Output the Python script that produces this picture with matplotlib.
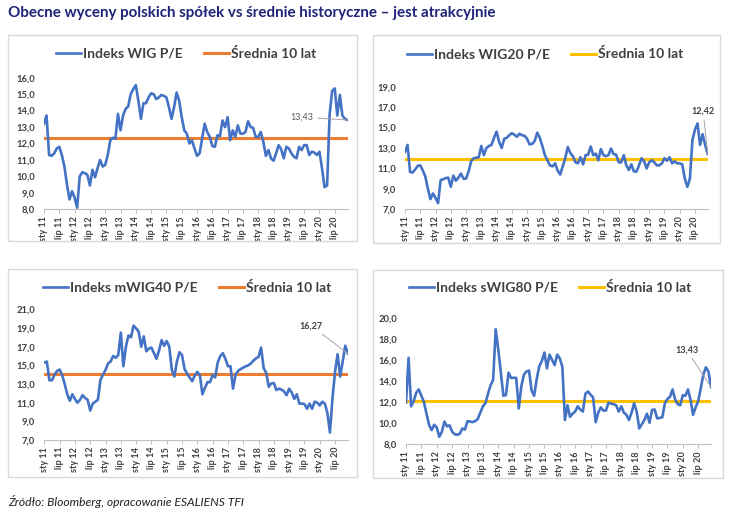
import matplotlib
matplotlib.use('Agg')
import matplotlib.pyplot as plt
import matplotlib.patches as mpatches

# monthly P/E values, sty 2011 .. gru 2020
wig_pe = [13.2, 13.7, 11.3, 11.25, 11.4, 11.7, 11.8, 11.3, 10.6, 9.5, 8.6, 9.1,
          8.7, 8.1, 10.0, 10.25, 10.2, 10.1, 9.45, 10.4, 9.95, 10.5, 11.0, 10.6,
          10.7, 11.3, 12.2, 12.35, 12.3, 13.8, 12.8, 13.7, 14.1, 14.25, 15.0, 15.3,
          15.55, 14.6, 13.5, 14.45, 14.45, 14.8, 15.05, 15.0, 14.7, 14.8, 14.95, 14.9,
          14.8, 14.2, 13.5, 14.2, 15.1, 14.6, 13.6, 12.8, 12.6, 12.0, 12.2, 11.7,
          11.25, 11.4, 12.3, 13.2, 12.7, 12.4, 11.85, 11.8, 12.5, 12.45, 13.4, 13.0,
          13.6, 12.2, 12.8, 12.4, 13.1, 12.6, 12.6, 12.7, 13.35, 13.0, 12.95, 12.4,
          12.4, 12.7, 12.1, 11.25, 11.6, 11.1, 10.95, 11.4, 11.9, 11.65, 11.1, 11.8,
          11.7, 11.4, 11.2, 11.1, 11.8, 11.6, 11.9, 11.9, 11.3, 11.5, 11.45, 11.3,
          11.5, 10.5, 9.35, 9.45, 13.8, 15.2, 15.35, 13.7, 14.95, 13.7, 13.5, 13.43]

wig20_pe = [12.6, 13.3, 10.65, 10.6, 10.9, 11.25, 11.3, 10.8, 10.2, 9.0, 8.0, 8.55,
            8.1, 7.6, 9.85, 9.95, 10.05, 10.1, 9.2, 10.3, 9.8, 10.1, 10.5, 10.0,
            10.0, 10.7, 11.7, 12.0, 12.05, 12.1, 13.2, 12.3, 13.0, 13.2, 13.3, 14.0,
            14.6, 13.6, 13.0, 13.9, 14.0, 14.25, 14.45, 14.3, 14.1, 14.4, 14.25, 14.2,
            13.9, 13.35, 13.4, 13.7, 14.5, 14.0, 13.2, 12.3, 11.8, 11.3, 11.2, 11.5,
            10.8, 10.4, 11.2, 12.0, 13.1, 12.5, 12.2, 11.6, 11.5, 12.1, 11.4, 12.3,
            12.35, 13.15, 12.3, 12.45, 11.8, 12.9, 12.3, 12.2, 12.3, 12.95, 12.4, 12.35,
            11.6, 11.6, 12.3, 11.3, 10.85, 11.4, 10.7, 10.7, 11.3, 12.0, 11.7, 11.0,
            11.6, 11.8, 11.6, 11.3, 11.3, 11.5, 12.0, 11.75, 12.1, 11.5, 11.7, 11.5,
            11.5, 11.4, 10.0, 9.2, 10.0, 13.8, 14.8, 15.4, 13.3, 14.35, 13.3, 12.42]

mwig40_pe = [15.3, 15.4, 13.4, 13.4, 14.0, 14.4, 14.55, 13.95, 13.0, 11.9, 11.2, 11.9,
             11.4, 11.0, 11.3, 11.8, 11.5, 11.3, 10.15, 10.9, 11.1, 11.3, 13.4, 14.0,
             14.5, 15.2, 15.4, 16.0, 15.8, 16.1, 18.5, 14.9, 17.0, 18.2, 18.0, 19.25,
             18.96, 18.6, 17.0, 18.1, 16.5, 16.8, 16.9, 16.3, 15.7, 16.6, 17.7, 17.1,
             17.6, 17.0, 14.5, 13.8, 15.4, 16.4, 16.1, 14.6, 14.1, 13.7, 13.3, 13.9,
             14.3, 13.95, 11.9, 12.6, 13.2, 13.2, 13.95, 13.7, 15.3, 16.0, 16.3, 15.7,
             14.9, 14.9, 12.5, 14.0, 14.4, 14.6, 14.75, 14.9, 15.0, 15.2, 15.5, 15.75,
             15.9, 16.9, 14.7, 14.2, 12.7, 13.05, 13.1, 12.35, 12.5, 12.4, 12.2, 11.8,
             12.5, 12.1, 11.4, 11.9, 10.9, 10.9, 10.85, 10.35, 10.9, 10.35, 11.1, 11.0,
             10.7, 11.1, 10.9, 9.9, 7.8, 11.5, 14.3, 16.2, 13.8, 15.4, 17.1, 16.27]

swig80_pe = [11.95, 16.2, 11.6, 12.1, 12.9, 13.2, 12.6, 12.0, 10.9, 9.85, 9.35, 9.85,
             9.6, 8.7, 9.2, 10.15, 9.7, 9.8, 9.2, 8.95, 8.9, 9.0, 9.5, 9.4,
             10.2, 10.15, 10.1, 10.2, 10.4, 11.0, 11.6, 11.9, 12.8, 13.6, 14.1, 18.9,
             17.0, 14.8, 12.6, 12.66, 14.78, 14.3, 14.3, 14.3, 11.4, 13.5, 14.6, 14.9,
             15.0, 13.1, 12.6, 14.2, 15.4, 15.9, 16.7, 15.2, 16.5, 16.0, 15.5, 16.5,
             16.15, 15.35, 10.3, 11.7, 10.6, 10.9, 11.1, 11.6, 11.3, 11.1, 12.8, 13.0,
             12.7, 12.45, 10.1, 11.0, 11.5, 11.2, 11.2, 11.95, 11.85, 11.8, 11.7, 11.1,
             11.6, 11.0, 10.8, 10.3, 11.0, 11.9, 11.1, 9.5, 9.9, 10.3, 10.9, 10.05,
             11.25, 11.3, 10.45, 10.5, 10.56, 11.9, 12.3, 12.5, 13.2, 12.25, 11.8, 11.7,
             12.66, 12.6, 13.2, 12.25, 10.8, 11.5, 12.1, 13.3, 14.6, 15.3, 14.9, 13.43]

# 10-year averages
averages = [12.35, 11.95, 14.1, 12.15]
names = ['Indeks WIG P/E', 'Indeks WIG20 P/E', 'Indeks mWIG40 P/E', 'Indeks sWIG80 P/E']
last_labels = ['13,43', '12,42', '16,27', '13,43']
tick_labels = [m + ' ' + str(y) for y in range(11, 21) for m in ('sty', 'lip')]

BLUE = '#4472C4'
ORANGE = '#ED7D31'
YELLOW = '#FFC000'
W, H = 738, 516


def px_rect(x0, x1, ytop, ybot):
    return [x0 / W, 1 - ybot / H, (x1 - x0) / W, (ybot - ytop) / H]


fig = plt.figure(figsize=(W / 100, H / 100), dpi=100)

fig.text(8 / W, 1 - 13 / H, 'Obecne wyceny polskich spółek vs średnie historyczne – jest atrakcyjnie',
         fontsize=10.9, fontfamily='Lato', fontweight='bold', color='#1E2478', va='center', ha='left')
fig.text(8 / W, 1 - 502 / H, 'Źródło: Bloomberg, opracowanie ESALIENS TFI',
         fontsize=8.7, fontfamily='Lato', fontstyle='italic', color='#222222', va='center', ha='left')

# panel frames (px): left, top, right, bottom
frames = [(7.7, 35, 357, 240.7), (372.7, 35, 720, 243),
          (7.7, 269, 357, 476.7), (373.3, 270, 722.7, 478)]
for l, t, r, b in frames:
    fig.patches.append(mpatches.Rectangle((l / W, 1 - b / H), (r - l) / W, (b - t) / H,
                                          transform=fig.transFigure, facecolor='none',
                                          edgecolor='#D9D9D9', linewidth=1))

panels = [
    # axes rect px, y range, avg colour, legend centre px, label pos (axes frac), label bold
    dict(rect=px_rect(44, 347.5, 77.7, 209.3), ylim=(8, 16), step=1, color=ORANGE,
         leg=(186, 53.5), lab=(0.85, 0.70), bold=False, data=wig_pe),
    dict(rect=px_rect(405, 707.7, 86.7, 209.3), ylim=(7, 19), step=2, color=YELLOW,
         leg=(545, 54), lab=(0.985, 0.80), bold=True, data=wig20_pe),
    dict(rect=px_rect(44.3, 347.8, 309.3, 440), ylim=(7, 21), step=2, color=ORANGE,
         leg=(187, 287), lab=(0.88, 0.872), bold=True, data=mwig40_pe),
    dict(rect=px_rect(406, 711, 317.7, 444.3), ylim=(8, 20), step=2, color=YELLOW,
         leg=(550, 287), lab=(0.92, 0.745), bold=True, data=swig80_pe),
]

for i, p in enumerate(panels):
    ax = fig.add_axes(p['rect'])
    vals = p['data']
    months = list(range(len(vals)))
    ax.plot(months, vals, color=BLUE, linewidth=1.9, label=names[i], solid_joinstyle='round', zorder=3)
    ax.plot(months, [averages[i]] * len(vals), color=p['color'], linewidth=2.2,
            label='Średnia 10 lat', zorder=2)
    ax.set_xlim(0, len(vals) - 1)
    ax.set_ylim(*p['ylim'])
    yt = list(range(p['ylim'][0], p['ylim'][1] + 1, p['step']))
    ax.set_yticks(yt)
    ax.set_yticklabels([('%.1f' % v).replace('.', ',') for v in yt],
                       fontsize=6.8, fontfamily='Lato', fontweight='bold', color='#404040')
    ax.set_xticks(list(range(0, len(vals), 6)))
    ax.set_xticklabels(tick_labels, rotation=90, fontsize=6.5, fontfamily='Lato',
                       fontweight='bold', color='#404040')
    ax.tick_params(axis='y', length=0, pad=6.5)
    ax.tick_params(axis='x', length=3, width=0.7, color='#BFBFBF', pad=2)
    for s in ('top', 'right', 'left'):
        ax.spines[s].set_visible(False)
    ax.spines['bottom'].set_color('#BFBFBF')
    ax.spines['bottom'].set_linewidth(0.8)
    ax.set_facecolor('none')

    ax.annotate(last_labels[i], xy=(months[-1], vals[-1]), xytext=p['lab'],
                textcoords='axes fraction', ha='center', va='center',
                fontsize=6.5, fontfamily='Lato', fontweight='bold' if p['bold'] else 'normal',
                color='#404040' if p['bold'] else '#595959',
                arrowprops=dict(arrowstyle='-', color='#A6A6A6', linewidth=0.7,
                                shrinkA=1, shrinkB=0))

    leg = ax.legend(loc='center', bbox_to_anchor=(p['leg'][0] / W, 1 - p['leg'][1] / H),
                    bbox_transform=fig.transFigure, ncol=2, frameon=False,
                    handlelength=1.8, handletextpad=0.15, columnspacing=1.5,
                    prop={'family': 'Lato', 'weight': 'bold', 'size': 10})
    for t in leg.get_texts():
        t.set_color('#404040')

fig.savefig('out.png', dpi=100)
